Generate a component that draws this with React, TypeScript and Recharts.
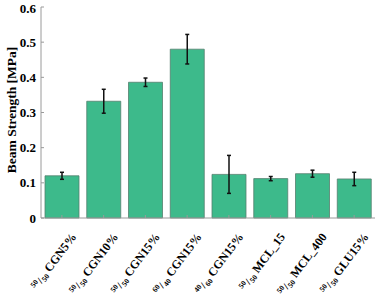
import { BarChart, Bar, XAxis, YAxis, ErrorBar } from "recharts";

// ---- データ ----
const RATIO_TOP = ["50", "50", "50", "60", "40", "50", "50", "50"];
const RATIO_BOTTOM = ["50", "50", "50", "40", "60", "50", "50", "50"];
const NAMES = ["CGN5%", "CGN10%", "CGN15%", "CGN15%", "CGN15%", "MCL_15", "MCL_400", "GLU15%"];
const STRENGTH = [0.12, 0.332, 0.386, 0.48, 0.124, 0.112, 0.126, 0.111];
const ERRORS = [0.01, 0.034, 0.012, 0.042, 0.054, 0.006, 0.01, 0.019];
const Y_TICKS = [0, 0.1, 0.2, 0.3, 0.4, 0.5, 0.6];

const data = NAMES.map((n, i) => ({
  key: `${i}`,
  top: RATIO_TOP[i],
  bottom: RATIO_BOTTOM[i],
  name: n,
  value: STRENGTH[i],
  err: ERRORS[i],
}));

const FONT = "Liberation Serif";
const FRAME = "#9a9a9a";
const ANGLE = 53;
const COS = Math.cos((ANGLE * Math.PI) / 180);
const SIN = Math.sin((ANGLE * Math.PI) / 180);

let ctx: CanvasRenderingContext2D | null = null;
const measure = (s: string, size: number) => {
  if (!ctx) ctx = document.createElement("canvas").getContext("2d");
  if (!ctx) return s.length * size * 0.55;
  ctx.font = `bold ${size}px "${FONT}"`;
  return ctx.measureText(s).width;
};

// 斜めラベル：部品ごとに別の text にして回転
const XTick = ({ x, y, payload }: any) => {
  const d = data[payload.index];
  const ax = x + 15;
  const ay = y + 20;
  // dist: 末尾からの距離, h: 下方向のずらし
  const pos = (dist: number, h: number) => [ax - COS * dist + SIN * h, ay + SIN * dist + COS * h];
  const parts: { s: string; size: number; h: number }[] = [
    { s: d.name, size: 12, h: 0 },
    { s: d.bottom, size: 7.5, h: 2 },
    { s: "/", size: 10, h: 0 },
    { s: d.top, size: 7.5, h: -3.5 },
  ];
  let dist = 0;
  return (
    <g>
      {parts.map((p, i) => {
        const [px, py] = pos(dist, p.h);
        dist += measure(p.s, p.size) + (i === 0 ? 3 : 0.5);
        return (
          <text
            key={i}
            x={px}
            y={py}
            transform={`rotate(-${ANGLE}, ${px}, ${py})`}
            textAnchor="end"
            fontFamily={FONT}
            fontWeight="bold"
            fontSize={p.size}
            fill="#000"
          >
            {p.s}
          </text>
        );
      })}
    </g>
  );
};

export default function App() {
  return (
    <div style={{ position: "absolute", left: 0, top: 0, background: "#fff" }}>
      <BarChart
        width={378}
        height={300}
        data={data}
        margin={{ top: 7, right: 3, left: 0, bottom: 0 }}
        barCategoryGap={4}
      >
        <XAxis
          dataKey="key"
          height={82}
          stroke={FRAME}
          tickSize={-3}
          tick={<XTick />}
          interval={0}
        />
        <XAxis
          xAxisId="top"
          dataKey="key"
          orientation="top"
          height={0}
          stroke={FRAME}
          tickSize={-3}
          tickFormatter={() => ""}
          interval={0}
        />
        <YAxis
          width={41}
          domain={[0, 0.6]}
          ticks={Y_TICKS}
          stroke={FRAME}
          tickSize={-3}
          tickMargin={8}
          tick={{ fill: "#000", fontFamily: FONT, fontWeight: "bold", fontSize: 13 }}
          label={{
            content: () => (
              <text
                x={11}
                y={110}
                transform="rotate(-90, 11, 110)"
                textAnchor="middle"
                dominantBaseline="central"
                fontFamily={FONT}
                fontWeight="bold"
                fontSize={13.5}
                fill="#000"
              >
                Beam Strength [MPa]
              </text>
            ),
          }}
        />
        <YAxis
          yAxisId="r"
          orientation="right"
          width={0}
          domain={[0, 0.6]}
          ticks={Y_TICKS}
          stroke={FRAME}
          tickSize={-3}
          tickFormatter={() => ""}
        />
        <Bar
          dataKey="value"
          fill="#3dba8b"
          stroke="#55806f"
          strokeWidth={0.8}
          isAnimationActive={false}
        >
          <ErrorBar dataKey="err" width={2} stroke="#111" strokeWidth={1.5} direction="y" />
        </Bar>
      </BarChart>
    </div>
  );
}
